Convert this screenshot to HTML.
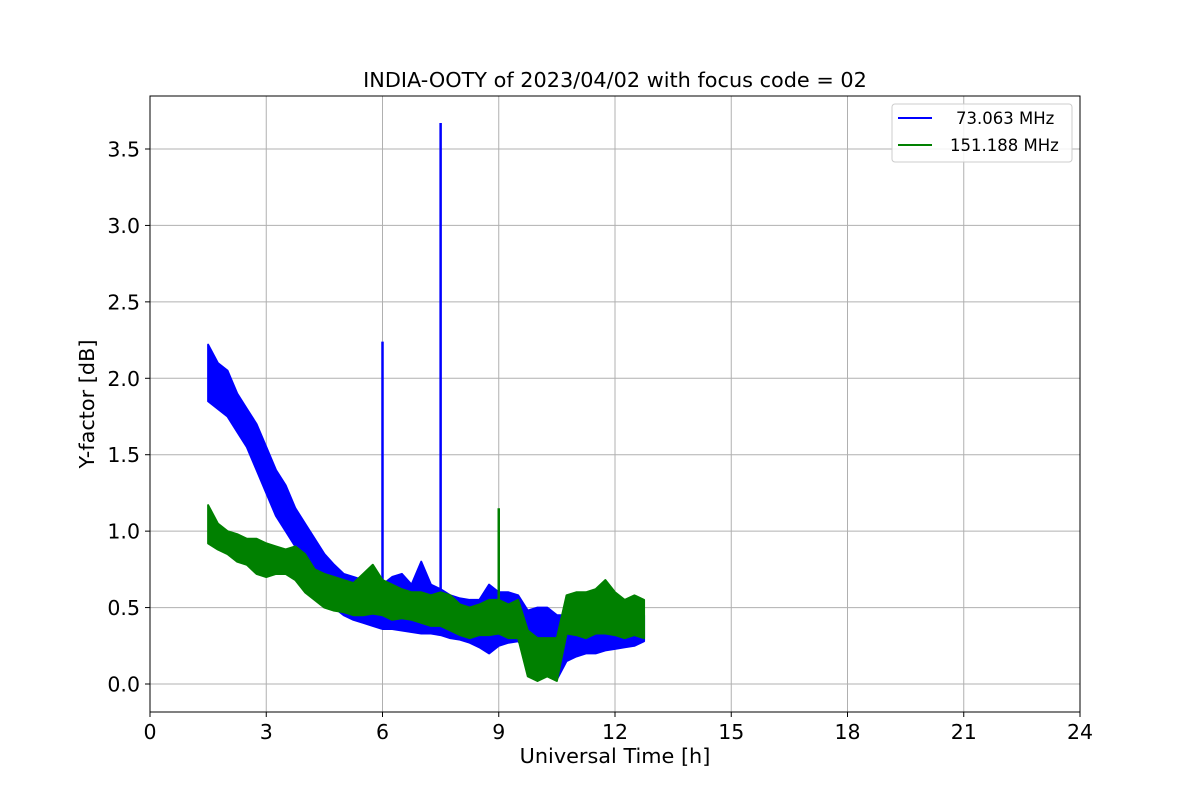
<!DOCTYPE html>
<html><head><meta charset="utf-8"><style>
body{margin:0;background:#fff;font-family:"DejaVu Sans","Liberation Sans",sans-serif}
svg text{font-family:"DejaVu Sans","Liberation Sans",sans-serif}
</style></head><body>
<svg id="chart" width="1200" height="800" xmlns="http://www.w3.org/2000/svg">
<rect width="1200" height="800" fill="#fff"/>
<g id="grid"></g>
<g id="series"></g>
<rect x="150" y="96" width="930" height="616" fill="none" stroke="#000" stroke-width="1"/>
<g id="ticks"></g>
<text x="615" y="87" text-anchor="middle" font-size="20.8">INDIA-OOTY of 2023/04/02 with focus code = 02</text>
<text x="615" y="763" text-anchor="middle" font-size="20.8">Universal Time [h]</text>
<text transform="translate(94,404) rotate(-90)" text-anchor="middle" font-size="20.8">Y-factor [dB]</text>
<g>
<rect x="892" y="104" width="180" height="58" rx="3" fill="#fff" fill-opacity="0.85" stroke="#ccc"/>
<g><line x1="898" y1="118" x2="932" y2="118" stroke="#0000ff" stroke-width="2"/><text x="956" y="124" font-size="16.5">73.063 MHz</text></g>
<g><line x1="898" y1="145" x2="932" y2="145" stroke="#008000" stroke-width="2"/><text x="950" y="151" font-size="16.5">151.188 MHz</text></g>
</g>
</svg>
<script>
const times=[1.5,1.75,2,2.25,2.5,2.75,3,3.25,3.5,3.75,4,4.25,4.5,4.75,5,5.25,5.5,5.75,6,6.25,6.5,6.75,7,7.25,7.5,7.75,8,8.25,8.5,8.75,9,9.25,9.5,9.75,10,10.25,10.5,10.75,11,11.25,11.5,11.75,12,12.25,12.5,12.75];
const blueLo=[1.85,1.8,1.75,1.65,1.55,1.4,1.25,1.1,1.0,0.9,0.8,0.7,0.55,0.5,0.45,0.42,0.4,0.38,0.36,0.36,0.35,0.34,0.33,0.33,0.32,0.3,0.29,0.27,0.24,0.2,0.25,0.27,0.28,0.2,0.12,0.08,0.03,0.15,0.18,0.2,0.2,0.22,0.23,0.24,0.25,0.28];
const blueHi=[2.22,2.1,2.05,1.9,1.8,1.7,1.55,1.4,1.3,1.15,1.05,0.95,0.85,0.78,0.72,0.7,0.68,0.66,0.65,0.7,0.72,0.65,0.8,0.65,0.62,0.58,0.56,0.55,0.55,0.65,0.6,0.6,0.58,0.48,0.5,0.5,0.45,0.45,0.48,0.5,0.5,0.5,0.48,0.46,0.45,0.45];
const greenLo=[0.92,0.88,0.85,0.8,0.78,0.72,0.7,0.72,0.72,0.68,0.6,0.55,0.5,0.48,0.47,0.45,0.45,0.46,0.45,0.42,0.43,0.42,0.4,0.38,0.38,0.35,0.32,0.3,0.32,0.32,0.33,0.3,0.3,0.05,0.02,0.05,0.02,0.33,0.32,0.3,0.33,0.33,0.32,0.3,0.32,0.3];
const greenHi=[1.17,1.05,1.0,0.98,0.95,0.95,0.92,0.9,0.88,0.9,0.85,0.75,0.72,0.7,0.68,0.66,0.72,0.78,0.68,0.65,0.62,0.6,0.6,0.58,0.6,0.58,0.52,0.5,0.52,0.55,0.55,0.52,0.55,0.35,0.3,0.3,0.3,0.58,0.6,0.6,0.62,0.68,0.6,0.55,0.58,0.55];
const spikeT=[6.0,7.5];
const spikeV=[2.24,3.67];
const gSpikeT=[9.0];
const gSpikeV=[1.15];
const xTicks=[0,3,6,9,12,15,18,21,24];
const yTicks=[0,0.5,1.0,1.5,2.0,2.5,3.0,3.5];
const yTickLabels=["0.0","0.5","1.0","1.5","2.0","2.5","3.0","3.5"];
const NS="http://www.w3.org/2000/svg";
const X=t=>150+t*(930/24);
const Y=v=>684-v*(535/3.5);
function mk(tag,attrs,parent){const e=document.createElementNS(NS,tag);for(const k in attrs)e.setAttribute(k,attrs[k]);parent.appendChild(e);return e;}
const grid=document.getElementById('grid'),ticks=document.getElementById('ticks'),ser=document.getElementById('series');
xTicks.forEach(t=>{
 const l=mk('line',{x1:X(t),x2:X(t),y1:96,y2:712,stroke:'#b0b0b0','stroke-width':1},grid);
 
 
 mk('line',{x1:X(t),x2:X(t),y1:712,y2:717,stroke:'#000'},ticks);
 const tx=mk('text',{x:X(t),y:739,'text-anchor':'middle','font-size':20.5},ticks);
 tx.textContent=t;
 
 
});
yTicks.forEach((v,i)=>{
 const l=mk('line',{x1:150,x2:1080,y1:Y(v),y2:Y(v),stroke:'#b0b0b0','stroke-width':1},grid);
 
 
 mk('line',{x1:145,x2:150,y1:Y(v),y2:Y(v),stroke:'#000'},ticks);
 const tx=mk('text',{x:140,y:Y(v)+7.5,'text-anchor':'end','font-size':20.5},ticks);
 tx.textContent=yTickLabels[i];
 
 
});
function band(lo,hi,color,name){
 let pts=[];
 times.forEach((t,i)=>pts.push(X(t)+','+Y(hi[i])));
 for(let i=times.length-1;i>=0;i--)pts.push(X(times[i])+','+Y(lo[i]));
 const p=mk('polygon',{points:pts.join(' '),fill:color,stroke:color,'stroke-width':2,'stroke-linejoin':'round'},ser);
 
 
}
function spikes(ts,vs,color,name){
 ts.forEach((t,i)=>{
  const l=mk('line',{x1:X(t),x2:X(t),y1:Y(0.5),y2:Y(vs[i]),stroke:color,'stroke-width':2.5},ser);
  
  
 });
}
band(blueLo,blueHi,'#0000ff','series-73mhz');
spikes(spikeT,spikeV,'#0000ff','spike-73mhz');
band(greenLo,greenHi,'#008000','series-151mhz');
spikes(gSpikeT,gSpikeV,'#008000','spike-151mhz');
</script>
</body></html>
